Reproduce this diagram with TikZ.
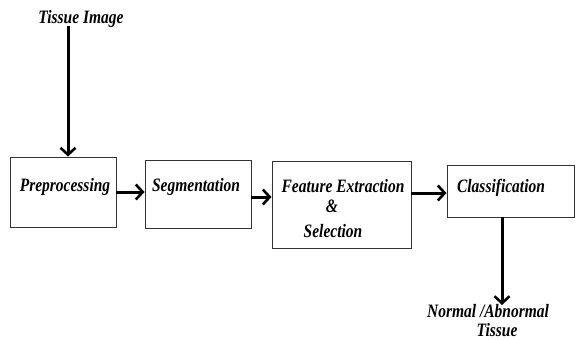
\documentclass[tikz,border=0pt]{standalone}
\usepackage{fontspec}
\usepackage{graphicx}
\setmainfont{Liberation Serif}
\usetikzlibrary{arrows.meta}
\newcommand{\tallt}[1]{\scalebox{1}[1.22]{#1}}
\begin{document}
\begin{tikzpicture}[x=1pt,y=-1pt,
  blockbox/.style={draw=black!80,line width=0.9pt,inner sep=0pt},
  lbl/.style={font=\fontsize{15.5}{17}\selectfont\bfseries\itshape,inner sep=0pt},
  flow/.style={line width=3pt,-{Straight Barb[length=7pt,width=15pt,line width=2.6pt]}}]
\useasboundingbox (0,0) rectangle (576,340);
\node[blockbox,minimum width=106pt,minimum height=70pt] (pre) at (63,192) {};
\node[blockbox,minimum width=106pt,minimum height=68pt] (seg) at (198,194) {};
\node[blockbox,minimum width=139pt,minimum height=87pt] (fea) at (341.5,204.5) {};
\node[blockbox,minimum width=127pt,minimum height=52pt] (cla) at (510.5,191) {};
\node[lbl] (tin) at (81,19) {\tallt{Tissue Image}};
\node[lbl] (tpre) at (65,187) {\tallt{Preprocessing}};
\node[lbl] (tseg) at (196,187) {\tallt{Segmentation}};
\node[lbl] (tfea1) at (343,186) {\tallt{Feature Extraction}};
\node[lbl] (tamp) at (332,206) {\tallt{\&}};
\node[lbl] (tfea2) at (333,231) {\tallt{Selection}};
\node[lbl] (tcla) at (501,188) {\tallt{Classification}};
\node[lbl] (tout1) at (488,311) {\tallt{Normal /Abnormal}};
\node[lbl] (tout2) at (497,330) {\tallt{Tissue}};
\coordinate (c1) at (68,26);
\coordinate (c2) at (502,305);
\draw[flow] (c1) -- (c1 |- pre.north);
\draw[flow] (pre.east |- 0,192) -- (seg.west |- 0,192);
\draw[flow] (seg.east |- 0,197) -- (fea.west |- 0,197);
\draw[flow] (fea.east |- 0,193) -- (cla.west |- 0,193);
\draw[flow] (c2 |- cla.south) -- (c2);
\end{tikzpicture}
\end{document}
